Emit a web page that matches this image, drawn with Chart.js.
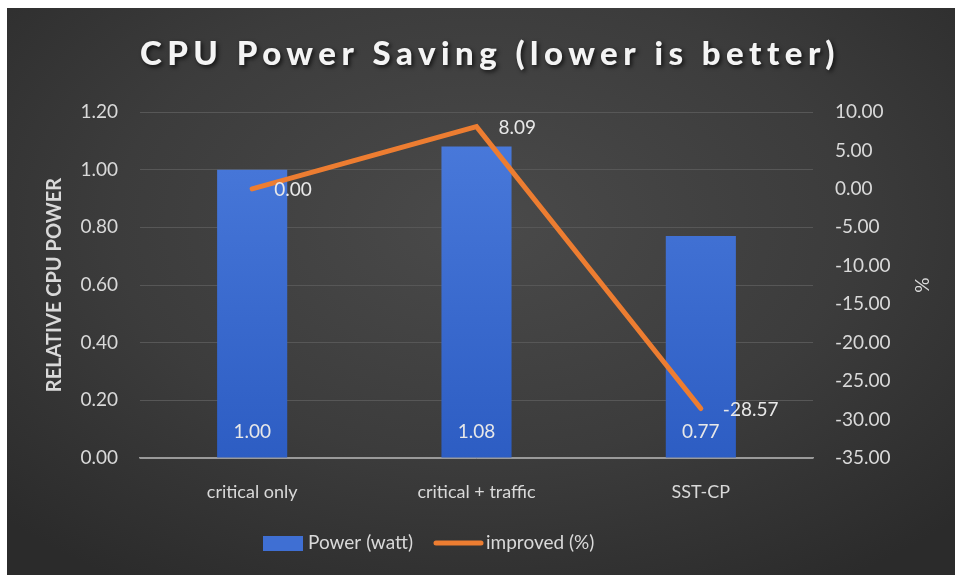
<!DOCTYPE html>
<html>
<head>
<meta charset="utf-8">
<script src="https://cdn.jsdelivr.net/npm/chart.js@4.4.1/dist/chart.umd.min.js"></script>
<style>
  html, body { margin: 0; padding: 0; background: #ffffff; }
  #wrap { position: relative; width: 955px; height: 575px; }
  #bg {
    position: absolute; left: 7px; top: 8px; width: 948px; height: 567px;
    background: radial-gradient(ellipse 70% 75% at 50% 38%, #4a4a4a 0%, #3c3c3c 55%, #2b2b2b 100%);
  }
  #chart { position: absolute; left: 0; top: 0; }
</style>
</head>
<body>
<div id="wrap">
  <div id="bg"></div>
  <canvas id="chart" width="955" height="575"></canvas>
</div>
<script>
// chart data
const categories = ['critical only', 'critical + traffic', 'SST-CP'];
const powerValues = [1.00, 1.08, 0.77];
const improvedValues = [0.00, 8.09, -28.57];
const powerTicks = [0, 0.2, 0.4, 0.6, 0.8, 1.0, 1.2];
const percentTicks = [10, 5, 0, -5, -10, -15, -20, -25, -30, -35];

const titleText = 'CPU Power Saving (lower is better)';
const FONT = 'Lato, "Noto Sans", sans-serif';
const TXT = '#d9d9d9';
const ORANGE = '#ED7D31';

function barFill(ctx) {
    const area = ctx.chart.chartArea;
    if (!area) return '#3d6bd0';
    const g = ctx.chart.ctx.createLinearGradient(0, area.top, 0, area.bottom);
    g.addColorStop(0, '#4b7bdc');
    g.addColorStop(1, '#2d5dc3');
    return g;
}

// title with shadow, value labels, legend
const decor = {
    id: 'decor',
    afterDraw(chart) {
        const c = chart.ctx;

        // title, stretched to the plot width like the original
        c.save();
        c.font = '900 33px ' + FONT;
        c.letterSpacing = '0px';
        const natural = c.measureText(titleText).width;
        const spacing = (693 - natural) / (titleText.length - 1);
        c.letterSpacing = spacing.toFixed(2) + 'px';
        c.fillStyle = '#f4f4f4';
        c.shadowColor = 'rgba(0,0,0,0.7)';
        c.shadowBlur = 4;
        c.shadowOffsetX = 2;
        c.shadowOffsetY = 2;
        c.textAlign = 'left';
        c.textBaseline = 'alphabetic';
        c.fillText(titleText, 140, 65);
        c.restore();

        // bar labels (inside base)
        const y = chart.scales.y;
        c.save();
        c.font = '19px ' + FONT;
        c.fillStyle = '#e8e8e8';
        c.textAlign = 'center';
        c.textBaseline = 'middle';
        chart.getDatasetMeta(1).data.forEach((el, i) => {
            c.fillText(powerValues[i].toFixed(2), el.x, y.getPixelForValue(0) - 26);
        });
        // line labels (right of point)
        c.textAlign = 'left';
        chart.getDatasetMeta(0).data.forEach((el, i) => {
            c.fillText(improvedValues[i].toFixed(2), el.x + 22, el.y + 1);
        });
        c.restore();

        // legend
        c.save();
        c.font = '19px ' + FONT;
        c.textBaseline = 'middle';
        const ly = 543;
        let x = 263;
        c.fillStyle = '#3f6fd3';
        c.fillRect(x, ly - 7, 40, 15);
        x += 45;
        c.fillStyle = TXT;
        c.fillText(chart.data.datasets[1].label, x, ly);
        x += c.measureText(chart.data.datasets[1].label).width + 21;
        c.strokeStyle = ORANGE;
        c.lineWidth = 5;
        c.lineCap = 'round';
        c.beginPath();
        c.moveTo(x + 2, ly);
        c.lineTo(x + 47, ly);
        c.stroke();
        x += 52;
        c.fillText(chart.data.datasets[0].label, x, ly);
        c.restore();
    }
};

new Chart(document.getElementById('chart'), {
    type: 'bar',
    data: {
        labels: categories,
        datasets: [
            {
                type: 'line',
                label: 'improved (%)',
                data: improvedValues,
                yAxisID: 'y1',
                borderColor: ORANGE,
                borderWidth: 5,
                borderCapStyle: 'round',
                borderJoinStyle: 'miter',
                pointRadius: 0,
                tension: 0,
                order: 0,
            },
            {
                type: 'bar',
                label: 'Power (watt)',
                data: powerValues,
                yAxisID: 'y',
                backgroundColor: barFill,
                categoryPercentage: 1,
                barPercentage: 0.3125,
                order: 1,
            },
        ],
    },
    options: {
        responsive: false,
        animation: false,
        layout: { padding: { top: 112, bottom: 57, left: 0, right: 0 } },
        plugins: { legend: { display: false }, title: { display: false }, tooltip: { enabled: false } },
        scales: {
            x: {
                grid: { display: false },
                border: { display: true, color: '#9a9a9a', width: 1.5 },
                ticks: { color: TXT, font: { family: FONT, size: 18 }, padding: 15 },
                afterFit(s) { s.height = 60; },
            },
            y: {
                position: 'left',
                min: 0, max: 1.2,
                afterBuildTicks(s) { s.ticks = powerTicks.map((v) => ({ value: v })); },
                grid: { color: (ctx) => (ctx.tick && ctx.tick.value === 0 ? '#9a9a9a' : '#575757'), drawTicks: false, lineWidth: 1 },
                border: { display: false },
                ticks: { color: TXT, font: { family: FONT, size: 19 }, padding: 22, callback: (v) => Number(v).toFixed(2) },
                title: { display: true, text: 'RELATIVE CPU POWER', color: TXT, font: { family: FONT, size: 20, weight: 'bold' }, padding: { top: 43, bottom: 0 } },
                afterFit(s) { s.width = 140; },
            },
            y1: {
                position: 'right',
                min: -35, max: 10,
                afterBuildTicks(s) { s.ticks = percentTicks.map((v) => ({ value: v })); },
                grid: { display: false, drawTicks: false },
                border: { display: false },
                ticks: { color: TXT, font: { family: FONT, size: 19 }, padding: 22, callback: (v) => Number(v).toFixed(2) },
                title: { display: true, text: '%', color: TXT, font: { family: FONT, size: 19 }, padding: { top: 22, bottom: 0 } },
                afterFit(s) { s.width = 142; },
            },
        },
    },
    plugins: [decor],
});
</script>
</body>
</html>
